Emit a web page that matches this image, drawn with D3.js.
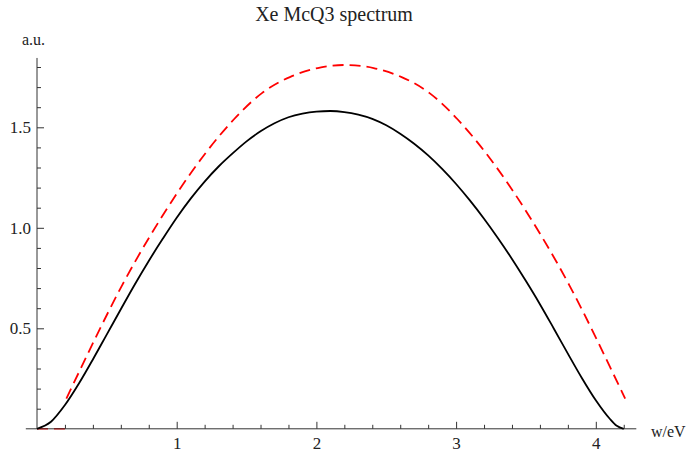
<!DOCTYPE html>
<html>
<head>
<meta charset="utf-8">
<script src="https://cdn.jsdelivr.net/npm/d3@7"></script>
<style>
html,body{margin:0;padding:0;background:#fff;overflow:hidden;}
svg{display:block;}
text{font-family:"Liberation Serif","Times New Roman",serif;fill:#222;}
</style>
</head>
<body>
<svg id="chart" width="687" height="454"></svg>
<script>
const title = "Xe McQ3 spectrum";
const xLabel = "w/eV";
const yLabel = "a.u.";
const xMajorTicks = [1, 2, 3, 4];
const yMajorTicks = [0.5, 1.0, 1.5];
const xMinorTicks = [0.2,0.4,0.6,0.8,1.2,1.4,1.6,1.8,2.2,2.4,2.6,2.8,3.2,3.4,3.6,3.8,4.2];
const yMinorTicks = [0.1,0.2,0.3,0.4,0.6,0.7,0.8,0.9,1.1,1.2,1.3,1.4,1.6,1.7,1.8];
const xExtent = [-0.08, 4.29];
const yExtent = [0, 1.845];

// solid black series
const blackX = [0,0.1,0.2,0.3,0.4,0.5,0.6,0.7,0.8,0.9,1.0,1.1,1.2,1.3,1.4,1.5,1.6,1.7,1.8,1.9,2.0,2.1,2.2,2.3,2.4,2.5,2.6,2.7,2.8,2.9,3.0,3.1,3.2,3.3,3.4,3.5,3.6,3.7,3.8,3.9,4.0,4.1,4.15,4.2];
const blackY = [0,0.035,0.118,0.225,0.345,0.47,0.595,0.718,0.835,0.945,1.05,1.145,1.23,1.305,1.37,1.43,1.48,1.52,1.55,1.568,1.578,1.581,1.576,1.563,1.542,1.51,1.468,1.418,1.36,1.293,1.218,1.135,1.045,0.948,0.845,0.735,0.62,0.498,0.374,0.253,0.142,0.05,0.015,0];

// dashed red series (zero below threshold, then jump)
const redLowX = [0, 0.2];
const redLowY = [0, 0];
const redX = [0.21,0.41,0.61,0.81,1.01,1.21,1.41,1.61,1.81,2.01,2.21,2.41,2.61,2.81,3.01,3.21,3.41,3.61,3.81,4.01,4.21];
const redY = [0.15,0.44,0.715,0.96,1.18,1.375,1.54,1.67,1.75,1.795,1.81,1.795,1.75,1.67,1.54,1.375,1.18,0.96,0.715,0.44,0.15];

const svg = d3.select("#chart");
const x = d3.scaleLinear().domain([0, 4]).range([37, 595.8]);
const y = d3.scaleLinear().domain([0, 1.5]).range([428.8, 127.3]);

const axisColor = "#333";
const line = d3.line().x(d => x(d[0])).y(d => y(d[1])).curve(d3.curveMonotoneX);

// red lower segment (under axis)
svg.append("path")
  .datum(redLowX.map((v,i)=>[v, redLowY[i]]))
  .attr("d", line).attr("fill","none")
  .attr("stroke","#f00").attr("stroke-width",1.6).attr("stroke-dasharray","11,6");

// x axis
const gx = svg.append("g").attr("transform", `translate(0,${y(0)})`);
gx.call(d3.axisBottom(x).tickValues(xMajorTicks).tickSize(-7).tickSizeOuter(0).tickFormat(d3.format("d")));
gx.select(".domain").remove();
gx.selectAll("line").attr("stroke", axisColor);
gx.selectAll("text").attr("y", 15).attr("dy", "0.32em").attr("font-size", 17)
  .attr("font-family","Liberation Serif").attr("fill","#222");
const gx2 = svg.append("g").attr("transform", `translate(0,${y(0)})`);
gx2.call(d3.axisBottom(x).tickValues(xMinorTicks).tickSize(-4).tickFormat(""));
gx2.select(".domain").remove();
gx2.selectAll("line").attr("stroke", axisColor);
svg.append("line").attr("x1", x(xExtent[0])).attr("x2", x(xExtent[1]))
  .attr("y1", y(0)).attr("y2", y(0)).attr("stroke", axisColor).attr("stroke-width", 1);

// y axis
const gy = svg.append("g").attr("transform", `translate(${x(0)},0)`);
gy.call(d3.axisLeft(y).tickValues(yMajorTicks).tickSize(-7).tickPadding(6).tickFormat(d3.format(".1f")));
gy.select(".domain").remove();
gy.selectAll("line").attr("stroke", axisColor);
gy.selectAll("text").attr("x", -6).attr("font-size", 17).attr("font-family","Liberation Serif").attr("fill","#222");
const gy2 = svg.append("g").attr("transform", `translate(${x(0)},0)`);
gy2.call(d3.axisLeft(y).tickValues(yMinorTicks).tickSize(-4).tickFormat(""));
gy2.select(".domain").remove();
gy2.selectAll("line").attr("stroke", axisColor);
svg.append("line").attr("x1", x(0)).attr("x2", x(0))
  .attr("y1", y(yExtent[0])).attr("y2", y(yExtent[1])).attr("stroke", axisColor).attr("stroke-width", 1);

// curves
svg.append("path")
  .datum(blackX.map((v,i)=>[v, blackY[i]]))
  .attr("d", line).attr("fill","none")
  .attr("stroke","#000").attr("stroke-width",1.8);
svg.append("path")
  .datum(redX.map((v,i)=>[v, redY[i]]))
  .attr("d", d3.line().x(d => x(d[0])).y(d => y(d[1])).curve(d3.curveNatural)).attr("fill","none")
  .attr("stroke","#f00").attr("stroke-width",1.8).attr("stroke-dasharray","11,6");

// labels
svg.append("text").attr("x", 334).attr("y", 21).attr("text-anchor","middle")
  .attr("font-size", 20).text(title);
svg.append("text").attr("x", 22).attr("y", 45).attr("font-size", 16).text(yLabel);
svg.append("text").attr("x", 651).attr("y", 437).attr("font-size", 16).text(xLabel);
</script>
</body>
</html>
